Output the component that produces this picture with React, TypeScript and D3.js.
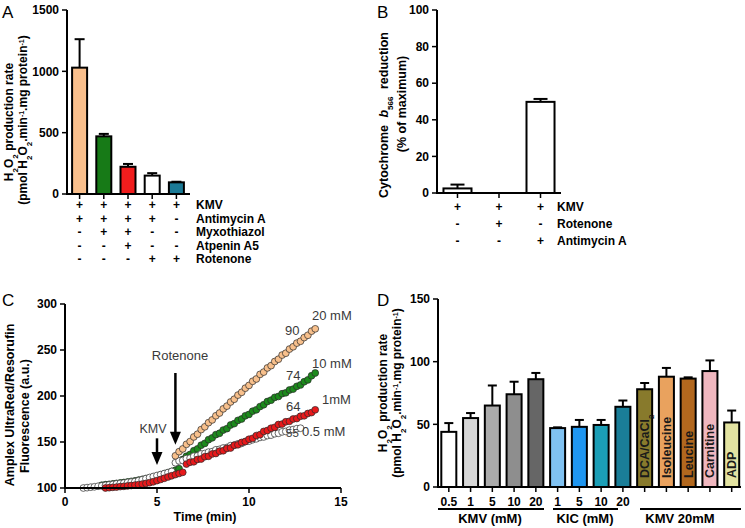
import React from "react";
import * as d3 from "d3";

const FONT = "'Liberation Sans', Arial, Helvetica, sans-serif";

// ---------------- Panel A ----------------
const aBars = ["a1", "a2", "a3", "a4", "a5"];
const aValues = [1030, 470, 222, 150, 95];
const aErrTop = [1262, 490, 245, 170, 100];
const aColors = ["#F9BF8C", "#177A17", "#F01D1D", "#FFFFFF", "#1B7A96"];
const aTicks = [0, 500, 1000, 1500];
const aRowLabels = ["KMV", "Antimycin A", "Myxothiazol", "Atpenin A5", "Rotenone"];
const aSigns = [
  ["+", "+", "+", "+", "+"],
  ["+", "+", "+", "+", "-"],
  ["-", "+", "+", "-", "-"],
  ["-", "-", "+", "-", "-"],
  ["-", "-", "-", "+", "+"],
];

// ---------------- Panel B ----------------
const bBars = ["b1", "b2", "b3"];
const bValues = [2.5, 0, 49.8];
const bErrTop = [4.6, 0, 51.4];
const bTicks = [0, 20, 40, 60, 80, 100];
const bRowLabels = ["KMV", "Rotenone", "Antimycin A"];
const bSigns = [
  ["+", "+", "+"],
  ["-", "+", "-"],
  ["-", "-", "+"],
];

// ---------------- Panel C ----------------
const cStep = 0.2; // sampling interval (min)
const cXTicks = [0, 5, 10, 15];
const cYTicks = [100, 150, 200, 250, 300];
const c05Start = 1.0;
const c05Values = [
  100, 100.4, 100.9, 101.3, 101.9, 102.3, 102.8, 103.4, 103.8, 104.5,
  104.9, 105.4, 106.0, 106.5, 107.0, 108.0, 109.0, 110.2, 111.4, 112.5,
  113.6, 114.6, 115.7, 116.8, 118.0,
  127.5, 129.5, 130.0, 132.0, 132.5, 134.5, 135.0, 137.0, 137.5, 139.0,
  139.5, 141.5, 142.0, 143.5, 144.0, 146.0, 146.5, 148.0, 148.5, 150.5,
  151.0, 152.5, 153.5, 155.0, 155.5, 157.0, 157.5, 159.0, 159.5, 161.0,
  161.5, 163.0, 163.5, 164.5, 165.0,
];
const c1Start = 2.2;
const c1Values = [
  100, 100.3, 100.7, 101.0, 101.5, 101.8, 102.3, 102.7, 103.2, 103.7,
  104.3, 105.0, 105.8, 106.8, 108.0, 109.3, 110.6, 112.0, 113.3, 114.6,
  115.8, 117.0,
  126.0, 128.0, 128.5, 131.0, 131.5, 134.0, 134.5, 137.0, 137.5, 140.0,
  140.5, 143.0, 143.5, 146.5, 147.0, 149.5, 150.5, 153.0, 154.0, 157.0,
  158.0, 161.5, 162.5, 165.0, 166.0, 169.0, 169.5, 172.0, 172.5, 175.0,
  175.5, 178.0, 178.5, 181.0, 182.0, 185.0,
];
const c10Start = 2.0;
const c10Values = [
  103.0, 103.6, 104.0, 104.5, 105.0, 105.5, 106.0, 106.5, 107.2, 107.8,
  108.6, 109.4, 110.2, 111.0, 112.0, 113.0, 114.2, 115.4, 116.6, 118.0,
  119.3, 121.0,
  131.0, 134.5, 136.5, 140.5, 142.5, 146.5, 148.5, 152.5, 154.5, 158.0,
  159.5, 163.0, 164.5, 168.5, 170.0, 173.5, 175.0, 178.5, 180.0, 183.5,
  185.0, 188.5, 190.5, 194.0, 195.5, 198.5, 199.5, 202.5, 203.5, 206.5,
  207.5, 210.5, 212.0, 215.5, 217.5, 222.0, 225.0,
];
const c20Start = 6.0;
const c20Values = [
  135.0, 139.5, 142.5, 147.5, 150.5, 155.5, 158.5, 163.5, 166.5, 171.0,
  174.0, 178.5, 181.5, 186.0, 189.0, 193.5, 196.5, 201.0, 204.0, 208.5,
  211.5, 216.0, 218.5, 223.5, 226.0, 230.5, 233.0, 237.5, 240.0, 244.5,
  246.5, 251.0, 253.5, 257.5, 259.5, 263.5, 266.0, 270.5, 273.0,
];
const cSeries = [
  { name: "10 mM", start: c10Start, values: c10Values, fill: "#1C8A1C" },
  { name: "0.5 mM", start: c05Start, values: c05Values, fill: "#FFFFFF" },
  { name: "1mM", start: c1Start, values: c1Values, fill: "#E8191B" },
  { name: "20 mM", start: c20Start, values: c20Values, fill: "#F8C08C" },
];

// ---------------- Panel D ----------------
const dBars = ["d1", "d2", "d3", "d4", "d5", "d6", "d7", "d8", "d9", "d10", "d11", "d12", "d13", "d14"];
const dTickLabels = ["0.5", "1", "5", "10", "20", "1", "5", "10", "20", "", "", "", "", ""];
const dInnerLabels = ["", "", "", "", "", "", "", "", "", "DCA/CaCl", "Isoleucine", "Leucine", "Carnitine", "ADP"];
const dValues = [44, 55, 65, 74, 86, 47, 48, 49.5, 64, 78, 88, 86.5, 92.5, 51.5];
const dErrTop = [51, 59, 81, 84, 91, 47.6, 53.5, 53.5, 69, 83, 95, 87.5, 101, 61];
const dColors = [
  "#FFFFFF", "#D6D6D6", "#ABABAB", "#8E8E8E", "#666666",
  "#80C2F2", "#1F96F0", "#1B9EB6", "#1A7E98",
  "#887A2C", "#E9A25E", "#B2681E", "#F0B7BF", "#E3E3A1",
];
const dTicks = [0, 50, 100, 150];
const dGroups = [
  { label: "KMV (mM)", from: 0, to: 4 },
  { label: "KIC (mM)", from: 5, to: 8 },
  { label: "KMV 20mM", from: 9, to: 13 },
];

function VText({ x, y, size = 12, weight = "bold", anchor = "middle", children, ws = 0 }: any) {
  return (
    <text
      transform={`translate(${x},${y}) rotate(-90)`}
      textAnchor={anchor}
      fontSize={size}
      fontWeight={weight}
      dy="0.35em"
      style={{ wordSpacing: ws }}
    >
      {children}
    </text>
  );
}

const Sub = ({ children, size = 8 }: any) => (
  <tspan baselineShift="sub" fontSize={size}>{children}</tspan>
);
const Sup = ({ children, size = 7 }: any) => (
  <tspan baselineShift="super" fontSize={size}>{children}</tspan>
);

function PanelA() {
  const y = d3.scaleLinear().domain([0, 1500]).range([194, 10]);
  const x = d3.scaleBand<string>().domain(aBars).range([67.5, 188.5]).paddingInner(0.38).paddingOuter(0.19);
  const bw = x.bandwidth();
  const rows = [209, 222.5, 236, 249.5, 263];
  return (
    <g>
      <text x={2} y={18} fontSize={17} fontWeight="normal">A</text>
      <VText x={9} y={122} size={12}>
        H<Sub>2</Sub>O<Sub>2</Sub> production rate
      </VText>
      <VText x={23} y={120} size={12}>
        (pmol H<Sub>2</Sub>O<Sub>2</Sub>.min<Sup>-1</Sup>.mg protein<Sup>-1</Sup>)
      </VText>
      {aBars.map((b, i) => {
        const cx = (x(b) as number) + bw / 2;
        return (
          <g key={b}>
            {aErrTop[i] > aValues[i] && (
              <g stroke="#000" strokeWidth={2}>
                <line x1={cx} x2={cx} y1={y(aValues[i])} y2={y(aErrTop[i])} />
                <line x1={cx - 5} x2={cx + 5} y1={y(aErrTop[i])} y2={y(aErrTop[i])} />
              </g>
            )}
            <rect x={x(b)} y={y(aValues[i])} width={bw} height={y(0) - y(aValues[i])} fill={aColors[i]} stroke="#000" strokeWidth={2} />
            <line x1={cx} x2={cx} y1={y(0)} y2={y(0) + 5} stroke="#000" strokeWidth={1.5} />
          </g>
        );
      })}
      <line x1={67} x2={67} y1={y(1500)} y2={y(0) + 1} stroke="#000" strokeWidth={2} />
      <line x1={66} x2={190} y1={y(0)} y2={y(0)} stroke="#000" strokeWidth={2} />
      {aTicks.map((t) => (
        <g key={t}>
          <line x1={62} x2={67} y1={y(t)} y2={y(t)} stroke="#000" strokeWidth={1.5} />
          <text x={59} y={y(t)} dy="0.35em" textAnchor="end" fontSize={12} fontWeight="bold">{t}</text>
        </g>
      ))}
      {aSigns.map((row, r) => (
        <g key={r}>
          {row.map((s, i) => (
            <text key={i} x={(x(aBars[i]) as number) + bw / 2} y={rows[r]} textAnchor="middle" fontSize={12} fontWeight="bold">{s}</text>
          ))}
          <text x={196} y={rows[r]} fontSize={12} fontWeight="bold">{aRowLabels[r]}</text>
        </g>
      ))}
    </g>
  );
}

function PanelB() {
  const y = d3.scaleLinear().domain([0, 100]).range([193, 10]);
  const x = d3.scaleBand<string>().domain(bBars).range([437, 561]).paddingInner(0.325).paddingOuter(0.156);
  const bw = x.bandwidth();
  const rows = [211, 228, 245];
  return (
    <g>
      <text x={377} y={18} fontSize={17}>B</text>
      <VText x={384} y={115} size={12.5} ws={4}>
        Cytochrome <tspan fontStyle="italic">b</tspan><Sub>566</Sub> reduction
      </VText>
      <VText x={402} y={104} size={12.5}>(% of maximum)</VText>
      {bBars.map((b, i) => {
        const cx = (x(b) as number) + bw / 2;
        return (
          <g key={b}>
            {bErrTop[i] > bValues[i] && (
              <g stroke="#000" strokeWidth={2}>
                <line x1={cx} x2={cx} y1={y(bValues[i])} y2={y(bErrTop[i])} />
                <line x1={cx - 7} x2={cx + 7} y1={y(bErrTop[i])} y2={y(bErrTop[i])} />
              </g>
            )}
            {bValues[i] > 0 && (
              <rect x={x(b)} y={y(bValues[i])} width={bw} height={y(0) - y(bValues[i])} fill="#fff" stroke="#000" strokeWidth={2} />
            )}
            <line x1={cx} x2={cx} y1={y(0)} y2={y(0) + 5} stroke="#000" strokeWidth={1.5} />
          </g>
        );
      })}
      <line x1={437} x2={437} y1={y(100)} y2={y(0) + 1} stroke="#000" strokeWidth={2} />
      <line x1={436} x2={561} y1={y(0)} y2={y(0)} stroke="#000" strokeWidth={2} />
      {bTicks.map((t) => (
        <g key={t}>
          <line x1={432} x2={437} y1={y(t)} y2={y(t)} stroke="#000" strokeWidth={1.5} />
          <text x={429} y={y(t)} dy="0.35em" textAnchor="end" fontSize={12} fontWeight="bold">{t}</text>
        </g>
      ))}
      {bSigns.map((row, r) => (
        <g key={r}>
          {row.map((s, i) => (
            <text key={i} x={(x(bBars[i]) as number) + bw / 2} y={rows[r]} textAnchor="middle" fontSize={12} fontWeight="bold">{s}</text>
          ))}
          <text x={557} y={rows[r]} fontSize={12} fontWeight="bold">{bRowLabels[r]}</text>
        </g>
      ))}
    </g>
  );
}

function PanelC() {
  const x = d3.scaleLinear().domain([0, 15]).range([65, 341]);
  const y = d3.scaleLinear().domain([100, 300]).range([488, 304]);
  const grey = "#3a3a3a";
  const arrow = (t: number, v1: number, v2: number) => {
    const cx = x(t);
    const y1 = y(v1);
    const y2 = y(v2);
    return (
      <g>
        <line x1={cx} x2={cx} y1={y1} y2={y2 - 10} stroke="#000" strokeWidth={2.5} />
        <path d={`M${cx - 5.5},${y2 - 13} L${cx + 5.5},${y2 - 13} L${cx},${y2} Z`} fill="#000" />
      </g>
    );
  };
  const labels = [
    { name: "20 mM", nx: 312, ny: 320, rate: "90", rx: 285, ry: 335 },
    { name: "10 mM", nx: 312, ny: 368, rate: "74", rx: 286, ry: 380 },
    { name: "1mM", nx: 322, ny: 404, rate: "64", rx: 286, ry: 411 },
    { name: "0.5 mM", nx: 302, ny: 436, rate: "55", rx: 286, ry: 437 },
  ];
  return (
    <g>
      <text x={2} y={306} fontSize={17}>C</text>
      <VText x={10} y={405} size={12.5}>Amplex UltraRed/Resorufin</VText>
      <VText x={25} y={416} size={12.5}>Fluorescence (a.u.)</VText>
      {cSeries.map((s) => (
        <g key={s.name}>
          {s.values.map((v, i) => (
            <circle key={i} cx={x(s.start + i * cStep)} cy={y(v)} r={3.4} fill={s.fill} stroke="#2a2a2a" strokeWidth={0.7} />
          ))}
        </g>
      ))}
      <line x1={65} x2={65} y1={y(300)} y2={y(100) + 1} stroke="#000" strokeWidth={2} />
      <line x1={64} x2={341} y1={y(100)} y2={y(100)} stroke="#000" strokeWidth={2} />
      {cYTicks.map((t) => (
        <g key={t}>
          <line x1={60} x2={65} y1={y(t)} y2={y(t)} stroke="#000" strokeWidth={1.5} />
          <text x={57} y={y(t)} dy="0.35em" textAnchor="end" fontSize={12} fontWeight="bold">{t}</text>
        </g>
      ))}
      {cXTicks.map((t) => (
        <g key={t}>
          <line x1={x(t)} x2={x(t)} y1={y(100)} y2={y(100) + 5} stroke="#000" strokeWidth={1.5} />
          <text x={x(t)} y={506} textAnchor="middle" fontSize={12} fontWeight="bold">{t}</text>
        </g>
      ))}
      <text x={205} y={521} textAnchor="middle" fontSize={12.5} fontWeight="bold">Time (min)</text>
      {arrow(5, 154, 125)}
      {arrow(6, 225, 147)}
      <text x={153} y={433} textAnchor="middle" fontSize={12.5} fill={grey}>KMV</text>
      <text x={180} y={360} textAnchor="middle" fontSize={13} fill={grey}>Rotenone</text>
      {labels.map((l) => (
        <g key={l.name} fill={grey}>
          <text x={l.nx} y={l.ny} fontSize={13}>{l.name}</text>
          <text x={l.rx} y={l.ry} fontSize={l.rate === "55" ? 11.5 : 13}>{l.rate}</text>
        </g>
      ))}
    </g>
  );
}

function PanelD() {
  const y = d3.scaleLinear().domain([0, 150]).range([487, 299]);
  const x = d3.scaleBand<string>().domain(dBars).range([440, 740.5]).paddingInner(0.31).paddingOuter(0.06);
  const bw = x.bandwidth();
  const groupLines = [
    { x1: 438, x2: 544 },
    { x1: 553, x2: 618 },
    { x1: 640, x2: 741 },
  ];
  const groupText = [490, 585, 680];
  return (
    <g>
      <text x={377} y={306} fontSize={17}>D</text>
      <VText x={383} y={393} size={12}>
        H<Sub>2</Sub>O<Sub>2</Sub> production rate
      </VText>
      <VText x={397} y={393} size={12}>
        (pmol H<Sub>2</Sub>O<Sub>2</Sub>.min<Sup>-1</Sup>.mg protein<Sup>-1</Sup>)
      </VText>
      {dBars.map((b, i) => {
        const x0 = x(b) as number;
        const cx = x0 + bw / 2;
        return (
          <g key={b}>
            {dErrTop[i] > dValues[i] && (
              <g stroke="#000" strokeWidth={2}>
                <line x1={cx} x2={cx} y1={y(dValues[i])} y2={y(dErrTop[i])} />
                <line x1={cx - 4.5} x2={cx + 4.5} y1={y(dErrTop[i])} y2={y(dErrTop[i])} />
              </g>
            )}
            <rect x={x0} y={y(dValues[i])} width={bw} height={y(0) - y(dValues[i])} fill={dColors[i]} stroke="#000" strokeWidth={2} />
            <line x1={cx} x2={cx} y1={y(0)} y2={y(0) + 5} stroke="#000" strokeWidth={1.5} />
            {dTickLabels[i] && (
              <text x={cx} y={506} textAnchor="middle" fontSize={12} fontWeight="bold">{dTickLabels[i]}</text>
            )}
            {dInnerLabels[i] && (
              <text transform={`translate(${cx + 4.5},${y(0) - 9}) rotate(-90)`} fontSize={12.5} fontWeight="bold" fill="#1a1a1a">
                {dInnerLabels[i]}
                {i === 9 && <Sub size={8}>2</Sub>}
              </text>
            )}
          </g>
        );
      })}
      <line x1={438} x2={438} y1={y(150)} y2={y(0) + 1} stroke="#000" strokeWidth={2} />
      <line x1={437} x2={741} y1={y(0)} y2={y(0)} stroke="#000" strokeWidth={2} />
      {dTicks.map((t) => (
        <g key={t}>
          <line x1={433} x2={438} y1={y(t)} y2={y(t)} stroke="#000" strokeWidth={1.5} />
          <text x={430} y={y(t)} dy="0.35em" textAnchor="end" fontSize={12} fontWeight="bold">{t}</text>
        </g>
      ))}
      {dGroups.map((g, k) => (
        <g key={g.label}>
          <line x1={groupLines[k].x1} x2={groupLines[k].x2} y1={509} y2={509} stroke="#000" strokeWidth={2.2} />
          <text x={groupText[k]} y={523} textAnchor="middle" fontSize={13} fontWeight="bold">{g.label}</text>
        </g>
      ))}
    </g>
  );
}

export default function App() {
  return (
    <svg
      width={745}
      height={528}
      viewBox="0 0 745 528"
      style={{ position: "absolute", left: 0, top: 0, background: "#fff" }}
      fontFamily={FONT}
    >
      <rect width={745} height={528} fill="#fff" />
      <PanelA />
      <PanelB />
      <PanelC />
      <PanelD />
    </svg>
  );
}
